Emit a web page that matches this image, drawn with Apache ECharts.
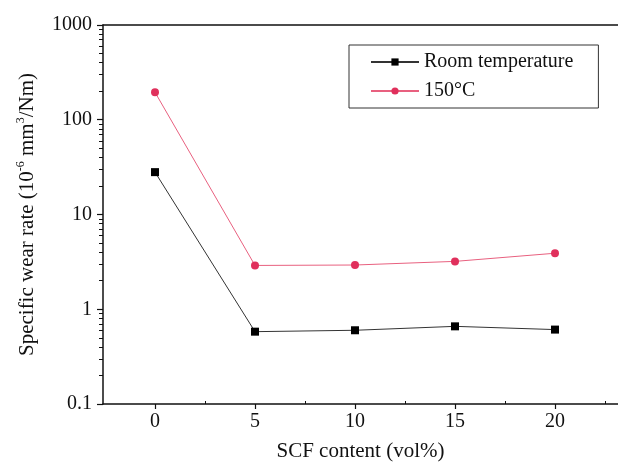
<!DOCTYPE html>
<html>
<head>
<meta charset="utf-8">
<script src="https://cdn.jsdelivr.net/npm/echarts@6/dist/echarts.min.js"></script>
<style>
  html, body { margin: 0; padding: 0; background: #fff; }
  #chart { width: 618px; height: 476px; }
</style>
</head>
<body>
<div id="chart"></div>
<script>
// SCF content (vol%)
const scfContent = [0, 5, 10, 15, 20]
// specific wear rate, 10^-6 mm^3/Nm
const roomTemp = [28, 0.58, 0.6, 0.66, 0.61]
const hot150 = [195, 2.9, 2.93, 3.2, 3.9]

const xMajorTicks = [0, 5, 10, 15, 20]
const xMinorTicks = [2.5, 7.5, 12.5, 17.5, 22.5]
const yMinorTicks = []
for (let d = -1; d < 3; d++) {
  for (let k = 2; k <= 9; k++) yMinorTicks.push(d + Math.log10(k))
}

const FONT = 'Liberation Serif'
const chart = echarts.init(document.getElementById('chart'))

const pair = (xs, ys) => xs.map((x, i) => [x, ys[i]])

chart.setOption({
  animation: false,
  textStyle: { fontFamily: FONT, color: '#111' },
  grid: { left: 103, right: 0, top: 25, bottom: 72 },
  legend: {
    orient: 'vertical',
    left: 349,
    top: 45,
    padding: [7, 25, 7, 21],
    itemGap: 9,
    itemWidth: 48,
    itemHeight: 9,
    borderColor: '#333',
    borderWidth: 1,
    textStyle: { fontFamily: FONT, fontSize: 20, color: '#111' },
    data: ['Room temperature', '150°C']
  },
  xAxis: [
    {
      type: 'value',
      min: -2.6,
      max: 23.15,
      position: 'bottom',
      name: 'SCF content (vol%)',
      nameLocation: 'middle',
      nameGap: 37,
      nameTextStyle: { fontFamily: FONT, fontSize: 21, color: '#111' },
      axisLine: { onZero: false, lineStyle: { color: '#111', width: 1.5 } },
      axisTick: { customValues: xMajorTicks, length: 5, lineStyle: { color: '#111', width: 1.2 } },
      axisLabel: { customValues: xMajorTicks, margin: 8, fontSize: 20, color: '#111', fontFamily: FONT },
      splitLine: { show: false }
    },
    {
      type: 'value',
      min: -2.6,
      max: 23.15,
      position: 'bottom',
      axisLine: { show: false, onZero: false },
      axisTick: { customValues: xMinorTicks, inside: true, length: 3, lineStyle: { color: '#111' } },
      axisLabel: { show: false },
      splitLine: { show: false }
    },
    {
      type: 'value',
      min: -2.6,
      max: 23.15,
      position: 'top',
      axisLine: { onZero: false, lineStyle: { color: '#111', width: 1.5 } },
      axisTick: { show: false },
      axisLabel: { show: false },
      splitLine: { show: false }
    }
  ],
  yAxis: [
    {
      type: 'log',
      logBase: 10,
      min: 0.1,
      max: 1000,
      position: 'left',
      name: '{a|Specific wear rate (10}{s|-6}{a| mm}{s|3}{a|/Nm)}',
      nameLocation: 'middle',
      nameGap: 64,
      nameRotate: 90,
      nameTextStyle: {
        rich: {
          a: { fontFamily: FONT, fontSize: 21, color: '#111', lineHeight: 24 },
          s: { fontFamily: FONT, fontSize: 12, color: '#111', verticalAlign: 'top', lineHeight: 24 }
        }
      },
      axisLine: { onZero: false, lineStyle: { color: '#111', width: 1.5 } },
      axisTick: { length: 6, lineStyle: { color: '#111', width: 1.2 } },
      axisLabel: {
        margin: 11, fontSize: 20, color: '#111', fontFamily: FONT,
        formatter: v => String(v)
      },
      splitLine: { show: false }
    },
    {
      type: 'value',
      min: -1,
      max: 3,
      position: 'left',
      axisLine: { show: false, onZero: false },
      axisTick: { customValues: yMinorTicks, length: 4, lineStyle: { color: '#111' } },
      axisLabel: { show: false },
      splitLine: { show: false }
    }
  ],
  series: [
    {
      name: 'Room temperature',
      type: 'line',
      xAxisIndex: 0,
      yAxisIndex: 0,
      data: pair(scfContent, roomTemp),
      symbol: 'rect',
      symbolSize: 8,
      itemStyle: { color: '#000' },
      lineStyle: { color: '#333', width: 1 }
    },
    {
      name: '150°C',
      type: 'line',
      xAxisIndex: 0,
      yAxisIndex: 0,
      data: pair(scfContent, hot150),
      symbol: 'circle',
      symbolSize: 8,
      itemStyle: { color: '#e0305c' },
      lineStyle: { color: '#e8607f', width: 1 }
    }
  ]
})
</script>
</body>
</html>
